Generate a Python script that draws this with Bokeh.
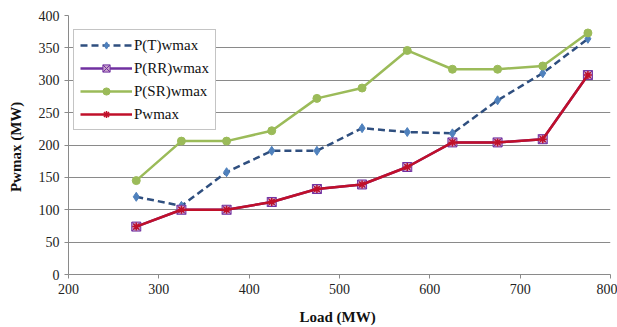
from bokeh.plotting import figure
from bokeh.models import Legend, LegendItem, FixedTicker, Range1d
from bokeh.embed import file_html
from bokeh.resources import INLINE

load = [275, 325, 375, 425, 475, 525, 575, 625, 675, 725, 775]
p_t = [120, 106, 158, 191, 191, 226, 220, 218, 269, 311, 364]
p_rr = [74, 100, 100, 112, 132, 139, 166, 204, 204, 209, 308]
p_sr = [145, 206, 206, 222, 272, 288, 346, 317, 317, 322, 373]
p_w = [74, 100, 100, 112, 132, 139, 166, 204, 204, 209, 308]

x_ticks = [200, 300, 400, 500, 600, 700, 800]
y_ticks = [0, 50, 100, 150, 200, 250, 300, 350, 400]

FONT = "'Liberation Serif', 'Times New Roman', serif"
AXFONT = "Times"

p = figure(width=617, height=327, output_backend="svg", toolbar_location=None,
           x_range=Range1d(200, 800), y_range=Range1d(0, 400),
           min_border_left=68, min_border_right=7, min_border_top=15, min_border_bottom=52)
p.outline_line_color = None
p.background_fill_color = "white"

p.xgrid.grid_line_color = None
p.ygrid.grid_line_color = "#8a8a8a"
p.ygrid.grid_line_width = 1

p.xaxis.ticker = FixedTicker(ticks=x_ticks)
p.yaxis.ticker = FixedTicker(ticks=y_ticks)
for ax in (p.xaxis[0], p.yaxis[0]):
    ax.axis_line_color = "#8a8a8a"
    ax.major_tick_line_color = "#8a8a8a"
    ax.minor_tick_line_color = None
    ax.major_tick_in = 0
    ax.major_tick_out = 4
    ax.major_label_text_font = AXFONT
    ax.major_label_text_font_size = "14px"
    ax.major_label_text_color = "#222222"
    ax.axis_label_text_font = AXFONT
    ax.axis_label_text_font_size = "15px"
    ax.axis_label_text_font_style = "bold"
    ax.axis_label_text_color = "#111111"
p.xaxis.axis_label = "Load  (MW)"
p.yaxis.axis_label = "Pwmax  (MW)"
p.xaxis.axis_label_standoff = 12
p.yaxis.axis_label_standoff = 12

blue_line = "#2F4F7F"
blue_mark = "#4F81BD"
purple = "#7030A0"
green = "#9BBB59"
red = "#C0102A"

r1 = p.line(load, p_t, line_color=blue_line, line_width=2.5, line_dash="7 4")
m1 = p.scatter(load, p_t, marker="diamond", size=9, fill_color=blue_mark, line_color=blue_mark)

r2 = p.line(load, p_rr, line_color=purple, line_width=2.5)
m2 = p.scatter(load, p_rr, marker="square_x", size=9, fill_color="#C9A3C9", line_color=purple, line_width=1)

r3 = p.line(load, p_sr, line_color=green, line_width=2.5)
m3 = p.scatter(load, p_sr, marker="circle", size=8, fill_color=green, line_color=green)

r4 = p.line(load, p_w, line_color=red, line_width=2.5)
m4 = p.scatter(load, p_w, marker="asterisk", size=8, line_color=red, line_width=1.5)

legend = Legend(items=[
    LegendItem(label="P(T)wmax", renderers=[r1, m1]),
    LegendItem(label="P(RR)wmax", renderers=[r2, m2]),
    LegendItem(label="P(SR)wmax", renderers=[r3, m3]),
    LegendItem(label="Pwmax", renderers=[r4, m4]),
], location=(5, 144))
legend.label_text_font = FONT
legend.label_text_font_size = "15px"
legend.label_text_color = "#111111"
legend.glyph_width = 52
legend.glyph_height = 18
legend.label_height = 18
legend.label_standoff = 2
legend.spacing = 5
legend.padding = 6
legend.margin = 0
legend.border_line_color = "#8a8a8a"
legend.border_line_width = 1
legend.background_fill_alpha = 1
p.add_layout(legend, "center")

open("out.html", "w").write(file_html(p, INLINE))
